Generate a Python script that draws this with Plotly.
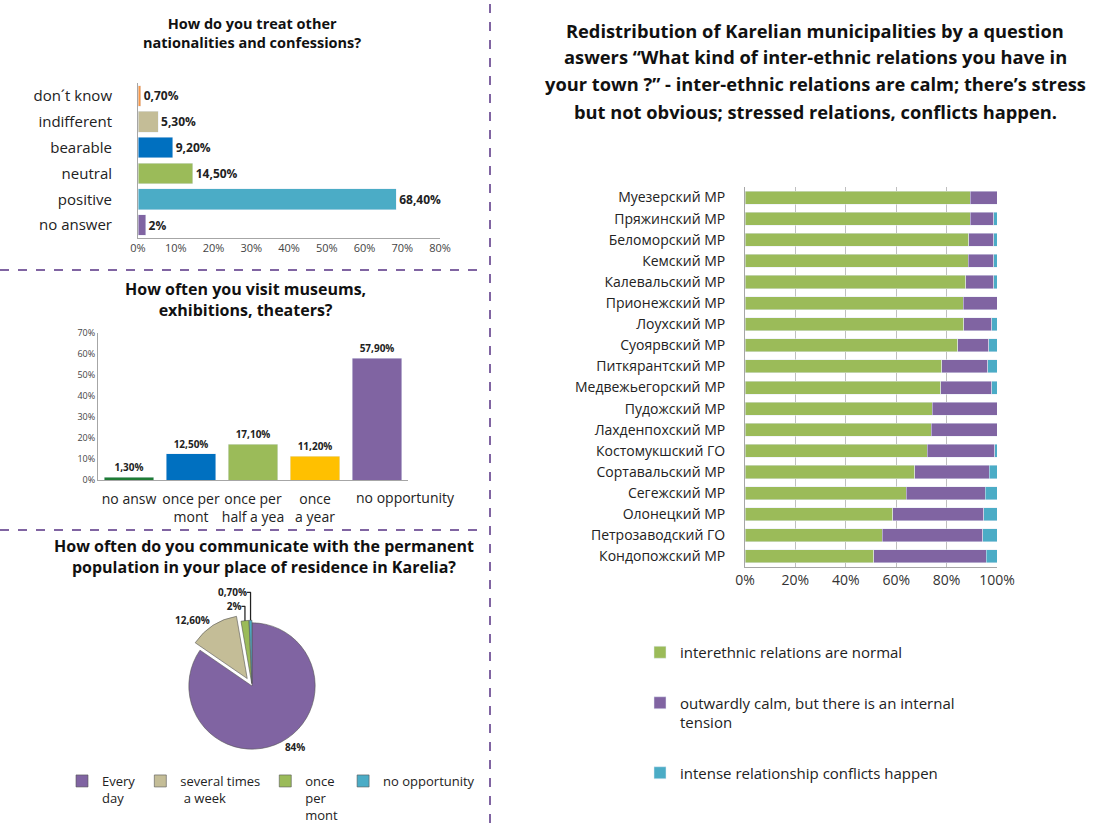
import plotly.graph_objects as go

# ---------------- data ----------------
treat_cats = ["don\u00b4t know", "indifferent", "bearable", "neutral", "positive", "no answer"]
treat_vals = [0.7, 5.3, 9.2, 14.5, 68.4, 2.0]
treat_colors = ["#F79646", "#C4BD97", "#0070C0", "#9BBB59", "#4BACC6", "#8064A2"]

visit_cats = ["no answ", "once per<br>mont", "once per<br>half a yea", "once<br>a year", "no opportunity"]
visit_vals = [1.3, 12.5, 17.1, 11.2, 57.9]
visit_colors = ["#1E7B34", "#0070C0", "#9BBB59", "#FFC000", "#8064A2"]

comm_labels = ["Every<br>day", "several times<br> a week", "once<br>per<br>mont", "no opportunity"]
comm_vals = [84.0, 12.6, 2.0, 0.7]
comm_colors = ["#8064A2", "#C4BD97", "#9BBB59", "#4BACC6"]

municipalities = [
    "Муезерский МР", "Пряжинский МР", "Беломорский МР", "Кемский МР",
    "Калевальский МР", "Прионежский МР", "Лоухский МР", "Суоярвский МР",
    "Питкярантский МР", "Медвежьегорский МР", "Пудожский МР", "Лахденпохский МР",
    "Костомукшский ГО", "Сортавальский МР", "Сегежский МР", "Олонецкий МР",
    "Петрозаводский ГО", "Кондопожский МР",
]
rel_normal = [89.4, 89.4, 88.7, 88.5, 87.5, 86.6, 86.9, 84.4, 78.1, 77.7,
              74.3, 73.9, 72.3, 67.3, 64.0, 58.7, 54.4, 51.0]
rel_tension = [10.6, 9.4, 10.1, 10.3, 11.3, 13.4, 11.1, 12.3, 18.2, 20.3,
               25.7, 26.1, 26.9, 29.7, 31.4, 36.0, 39.9, 44.8]
rel_conflict = [0.0, 1.2, 1.2, 1.2, 1.2, 0.0, 2.0, 3.3, 3.7, 2.0,
                0.0, 0.0, 0.8, 3.0, 4.6, 5.3, 5.7, 4.2]
rel_names = ["interethnic relations are normal",
             "outwardly calm, but there is an internal<br>tension",
             "intense relationship conflicts happen"]
rel_colors = ["#9BBB59", "#8064A2", "#4BACC6"]

right_title_lines = [
    "Redistribution of Karelian municipalities by a question",
    "aswers \u201cWhat kind of inter-ethnic relations you have in",
    "your town ?\u201d - inter-ethnic relations are calm; there\u2019s stress",
    "but not obvious; stressed relations, conflicts happen.",
]


def pct(v):
    if float(v).is_integer():
        return f"{int(v)}%"
    return f"{v:.2f}".replace(".", ",") + "%"


W, H = 1096, 823
FONT = "Open Sans"
PURPLE = "#8064A2"


def px(x):
    return x / W


def py(y):
    return 1 - y / H


fig = go.Figure()

# chart 1: horizontal bars
fig.add_trace(go.Bar(
    x=treat_vals, y=treat_cats, orientation="h",
    marker=dict(color=treat_colors),
    text=[pct(v) for v in treat_vals], textposition="outside",
    textfont=dict(size=12, color="#222", family=FONT, weight="bold"),
    cliponaxis=False, showlegend=False,
    xaxis="x", yaxis="y",
))

# chart 2: columns
fig.add_trace(go.Bar(
    x=visit_cats, y=visit_vals,
    marker=dict(color=visit_colors),
    text=[pct(v) for v in visit_vals], textposition="outside",
    textfont=dict(size=10, color="#222", family=FONT, weight="bold"),
    cliponaxis=False, showlegend=False,
    xaxis="x2", yaxis="y2",
))

# chart 3: pie
fig.add_trace(go.Pie(
    labels=comm_labels, values=comm_vals,
    marker=dict(colors=comm_colors, line=dict(color="#555", width=0.6)),
    text=[pct(v) for v in comm_vals], textinfo="text",
    textposition="outside",
    textfont=dict(size=10, color="#222", family=FONT, weight="bold"),
    sort=False, direction="clockwise", rotation=0,
    pull=[0, 0.14, 0.04, 0.04],
    domain=dict(x=[px(174), px(330)], y=[py(758), py(614)]),
    legend="legend2",
))

# chart 4: stacked horizontal bars
for vals, name, col in zip([rel_normal, rel_tension, rel_conflict], rel_names, rel_colors):
    fig.add_trace(go.Bar(
        x=vals, y=municipalities, orientation="h", name=name,
        marker=dict(color=col), legendgroup=name, width=0.62,
        xaxis="x3", yaxis="y3", legend="legend",
    ))

n_visit = len(visit_cats)
axis_line = "#A6A6A6"
fig.update_layout(
    width=W, height=H,
    margin=dict(l=0, r=0, t=0, b=0, autoexpand=False),
    paper_bgcolor="white", plot_bgcolor="white",
    font=dict(family=FONT, color="#222"),
    barmode="stack",
    bargap=0.2,
    xaxis=dict(domain=[px(138), px(440)], range=[0, 80], dtick=10, ticksuffix="%",
               showgrid=False, zeroline=False, showline=True, linecolor=axis_line,
               tickfont=dict(size=11, color="#444"), anchor="y", automargin=False),
    yaxis=dict(domain=[py(238), py(83)], autorange="reversed", showgrid=False,
               showline=True, linecolor=axis_line, ticklabelstandoff=22,
               tickfont=dict(size=15, color="#222"), anchor="x", automargin=False),
    xaxis2=dict(domain=[px(98), px(408)], showgrid=False, showline=True, linecolor=axis_line,
                tickfont=dict(size=14, color="#222"), anchor="y2", ticklabelstandoff=6,
                type="category", range=[-0.5, n_visit - 0.5],
                tickmode="array", tickvals=list(range(n_visit)),
                ticktext=visit_cats[:-1] + [""],
                tickangle=0, automargin=False),
    yaxis2=dict(domain=[py(480), py(333)], range=[0, 70], dtick=10, ticksuffix="%",
                showgrid=False, zeroline=False, showline=True, linecolor=axis_line,
                tickfont=dict(size=9, color="#444"), anchor="x2", automargin=False),
    xaxis3=dict(domain=[px(745), px(997)], range=[0, 100], dtick=20, ticksuffix="%",
                showgrid=True, gridcolor="#BFBFBF", zeroline=False, showline=True,
                linecolor=axis_line, tickfont=dict(size=14, color="#333"), anchor="y3",
                automargin=False),
    yaxis3=dict(domain=[py(567), py(187)], autorange="reversed", showgrid=False,
                showline=True, linecolor=axis_line, ticklabelstandoff=16,
                tickfont=dict(size=14, color="#222"), anchor="x3", automargin=False),
    legend=dict(x=px(640), y=py(636), xanchor="left", yanchor="top",
                font=dict(size=15, color="#222"), tracegroupgap=28, valign="top",
                traceorder="grouped", bgcolor="rgba(0,0,0,0)"),
    legend2=dict(orientation="h", x=px(62), y=py(766), xanchor="left", yanchor="top",
                 font=dict(size=13, color="#222"), bgcolor="rgba(0,0,0,0)", valign="top"),
)

annotations = [
    dict(text="<b>How do you treat other<br>nationalities and confessions?</b>",
         x=px(252), y=py(12), font=dict(family=FONT, size=14.5, color="#111")),
    dict(text="<b>How often you visit museums,<br>exhibitions, theaters?</b>",
         x=px(245), y=py(276), font=dict(family=FONT, size=16, color="#111")),
    dict(text="<b>How often do you communicate with the permanent<br>population in your place of residence in Karelia?</b>",
         x=px(264), y=py(533), font=dict(family=FONT, size=16, color="#111")),
]
for i, line in enumerate(right_title_lines):
    annotations.append(dict(text=f"<b>{line}</b>", x=px(815), y=py(30 + 27 * i),
                            font=dict(family=FONT, size=18.3, color="#111"), yanchor="middle"))
for a in annotations:
    a.setdefault("yanchor", "top")
    a.update(xref="paper", yref="paper", xanchor="center",
             showarrow=False, align="center")
# last column category label, offset to the right as in the original
annotations.append(dict(text=visit_cats[-1], xref="x2", yref="y2", x=n_visit - 1, y=0,
                        xanchor="center", yanchor="top", xshift=28, yshift=-6,
                        showarrow=False, font=dict(family=FONT, size=14, color="#222")))
fig.update_layout(annotations=annotations)

dash = dict(color=PURPLE, width=2, dash="dash")
fig.update_layout(shapes=[
    dict(type="line", xref="paper", yref="paper", x0=0, x1=px(482), y0=py(270), y1=py(270), line=dash),
    dict(type="line", xref="paper", yref="paper", x0=0, x1=px(482), y0=py(530), y1=py(530), line=dash),
    dict(type="line", xref="paper", yref="paper", x0=px(490), x1=px(490), y0=0, y1=1, line=dash),
])

fig.write_html("out.html", config={"displayModeBar": False},
               post_script="document.body.style.margin='0';document.body.style.overflow='hidden';")
